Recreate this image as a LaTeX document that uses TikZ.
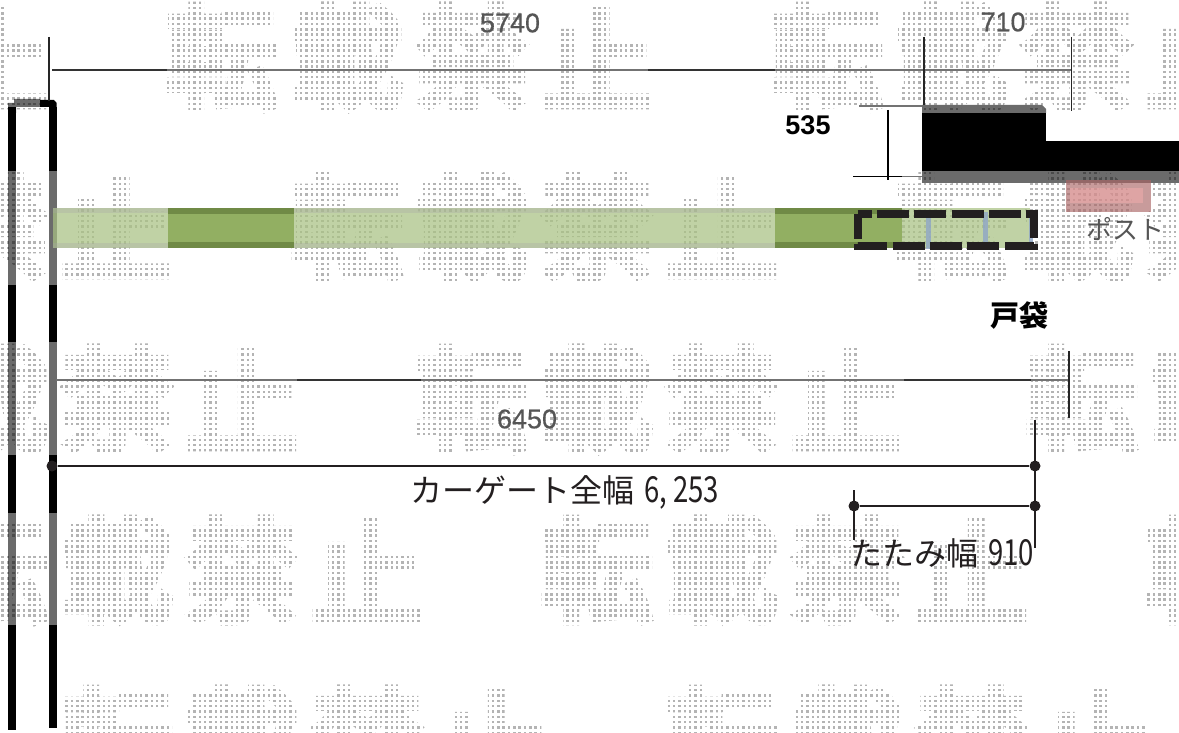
\documentclass[tikz,border=0pt]{standalone}
\usepackage{fontspec}
\setmainfont{Liberation Sans}
\newfontfamily\jp{Noto Sans CJK JP}
\newfontfamily\wmf[FakeBold=7]{Noto Sans CJK JP}
\newfontfamily\numf[FakeBold=0.5]{Liberation Sans}
\definecolor{wmgray}{HTML}{B4B4B4}
\definecolor{ink}{HTML}{231F20}
\definecolor{dimgray}{HTML}{555555}
\definecolor{lightgreen}{HTML}{A9C283}
\definecolor{darkgreen}{HTML}{92AF62}
\definecolor{darkband}{HTML}{708A46}
\definecolor{markblue}{HTML}{8FA6C6}
\tikzset{
  wm/.style={inner sep=0pt,text=wmgray,font=\wmf\fontsize{112}{112}\selectfont,anchor=center},
  dimbase/.style={draw=black!55,line width=1.5pt},
  dimdark/.style={draw=black!80,line width=1.6pt},
  tick/.style={draw=black!85,line width=1.4pt},
  dimnote/.style={draw=ink,line width=1.5pt},
  pin/.style={circle,fill=ink,inner sep=0pt,minimum size=11pt},
  lbl/.style={inner sep=0pt,text=dimgray,font=\numf\fontsize{27}{27}\selectfont},
  lblb/.style={inner sep=0pt,text=black,font=\bfseries\fontsize{27}{27}\selectfont},
  jplbl/.style={inner sep=0pt,text=ink,font=\jp\fontsize{32}{32}\selectfont},
  shade/.style={fill=black,fill opacity=.58,draw=none},
}
\newcommand{\nar}[1]{\scalebox{.86}[1.12]{#1}}
\begin{document}
\begin{tikzpicture}[x=1pt,y=-1pt]
\useasboundingbox (0,0) rectangle (1179,733);
\fill[white] (0,0) rectangle (1179,733);
\begin{scope}
\clip (0,0) rectangle (1179,733);
% watermark
\foreach \ch/\wx/\wy [count=\i] in {
 止/-60/5,転/170/5,載/295/5,禁/420/5,止/545/5,転/775/5,載/900/5,禁/1025/5,止/1150/5,
 禁/-60/175,止/65/175,転/295/175,載/420/175,禁/545/175,止/670/175,転/900/175,載/1025/175,禁/1150/175,
 載/-60/347,禁/65/347,止/190/347,転/420/347,載/545/347,禁/670/347,止/795/347,転/1030/347,載/1155/347,
 転/-60/518,載/65/518,禁/190/518,止/315/518,転/545/518,載/670/518,禁/795/518,止/920/518,転/1150/518,
 転/65/688,載/190/688,禁/315/688,止/440/688,転/670/688,載/795/688,禁/920/688,止/1045/688}
 {\node[wm] (wm\i) at (\wx+52,\wy+52) {\ch};}
% dot screen
\foreach \k in {0,...,222} {\draw[white,line width=2.9pt] (\k*5.33,0) -- (\k*5.33,733);}
\foreach \k in {0,...,138} {\draw[white,line width=2.9pt] (0,\k*5.33) -- (1179,\k*5.33);}

% black posts
\foreach \bx in {12.2,52.7} {
 \fill[black] (\bx-4,107) rectangle (\bx+4,171);
 \fill[black] (\bx-4,285) rectangle (\bx+4,342);
 \fill[black] (\bx-4,455) rectangle (\bx+4,513);
 \fill[shade] (\bx-4,171) rectangle (\bx+4,285);
 \fill[shade] (\bx-4,342) rectangle (\bx+4,455);
 \fill[shade] (\bx-4,513) rectangle (\bx+4,625);
}
\fill[black] (8.2,625) rectangle (16.2,730);
\fill[black] (48.7,625) rectangle (56.7,728);
\fill[shade] (8.2,103) -- (14,103) -- (14,99) -- (40,99) -- (40,107) -- (16.2,107) -- (16.2,113) -- (8.2,113) -- cycle;
\fill[black] (40,100) -- (54,100) -- (56.7,103) -- (56.7,107) -- (40,107) -- cycle;

% wall block
\fill[black] (922,113) rectangle (1046,171);
\fill[black] (1046,141) rectangle (1179,171);
\fill[shade] (922,105) -- (1042,105) -- (1046,109) -- (1046,113) -- (922,113) -- cycle;
\fill[shade] (922,171) rectangle (1179,183);

% post box
\fill[fill=red!45!black!60!white,fill opacity=.65] (1066,180) rectangle (1151,212);
\fill[fill=red!30!white,fill opacity=.4] (1070,188) rectangle (1143,203);

% green gate
\fill[lightgreen,fill opacity=.72] (53,208) rectangle (168,248);
\fill[lightgreen,fill opacity=.72] (294,208) rectangle (775,248);
\fill[lightgreen,fill opacity=.72] (902,208) rectangle (1030,248);
\fill[black!35,fill opacity=.3] (53,208) rectangle (168,213);
\fill[black!35,fill opacity=.3] (53,243) rectangle (168,248);
\fill[black!35,fill opacity=.3] (294,208) rectangle (775,213);
\fill[black!35,fill opacity=.3] (294,243) rectangle (775,248);
\foreach \gl/\gr in {168/294,775/902} {
 \fill[darkgreen] (\gl,208) rectangle (\gr,248);
 \fill[darkband] (\gl,208) rectangle (\gr,214);
 \fill[darkband] (\gl,242) rectangle (\gr,248);
}
% blue marks behind the dashed box
\foreach \bm in {928.5,985.5,1031} {\fill[markblue,fill opacity=.8] (\bm-2.2,212) rectangle (\bm+2.2,249);}
% dashed frame
\coordinate (fa) at (857.5,214);
\coordinate (fb) at (1034,214);
\coordinate (fc) at (1034,246);
\coordinate (fd) at (857.5,246);
\draw[ink,line width=8pt,dash pattern=on 32pt off 5.3pt,dash phase=17.8pt] (fa) -- (fb) -- (fc) -- (fd) -- cycle;
\end{scope}

% dimension lines, top
\coordinate (ta) at (52,70); \coordinate (tb) at (1072,70);
\draw[dimbase] (ta) -- (tb);
\coordinate (ta1) at (167,70); \coordinate (ta2) at (648,70); \coordinate (ta3) at (775,70);
\draw[dimdark] (ta) -- (ta1);
\draw[dimdark] (ta2) -- (ta3);
\coordinate (t1a) at (49,37); \coordinate (t1b) at (49,101);
\coordinate (t2a) at (924,37); \coordinate (t2b) at (924,105);
\coordinate (t3a) at (1071.5,37); \coordinate (t3b) at (1071.5,111);
\draw[tick] (t1a) -- (t1b);
\draw[tick] (t2a) -- (t2b);
\draw[tick] (t3a) -- (t3b);
% 535
\coordinate (ha) at (859,106); \coordinate (hb) at (922,106);
\coordinate (ia) at (853,176.5); \coordinate (ib) at (902,176.5); \coordinate (ic) at (922,176.5);
\coordinate (va) at (888,110); \coordinate (vb) at (888,180);
\draw[dimbase] (ha) -- (hb);
\draw[dimbase] (ib) -- (ic);
\draw[draw=black,line width=1.5pt] (ia) -- (ib);
\draw[draw=black,line width=1.4pt] (va) -- (vb);
% 6450
\coordinate (ma) at (56,380); \coordinate (mb) at (1069,380);
\draw[dimbase] (ma) -- (mb);
\coordinate (m1) at (297,380); \coordinate (m2) at (421,380); \coordinate (m3) at (904,380); \coordinate (m4) at (1031,380);
\draw[dimdark] (m1) -- (m2);
\draw[dimdark] (m3) -- (m4);
\coordinate (mta) at (1069,351); \coordinate (mtb) at (1069,418);
\draw[tick] (mta) -- (mtb);

% gate width notes
\node[pin] (p1) at (52,466) {};
\node[pin] (p2) at (1035,466) {};
\node[pin] (p3) at (1035,506) {};
\node[pin] (p4) at (854,506) {};
\coordinate (na) at (1035,420); \coordinate (nb) at (1035,548);
\coordinate (oa) at (854,490); \coordinate (ob) at (854,540);
\draw[dimnote] (p1) -- (p2);
\draw[dimnote] (p4) -- (p3);
\draw[draw=ink,line width=1.3pt] (na) -- (nb);
\draw[draw=ink,line width=1.3pt] (oa) -- (ob);

% labels
\node[lbl] (l5740) at (510,23) {5740};
\node[lbl] (l710) at (1003,22) {710};
\node[lblb] (l535) at (808,125) {535};
\node[lbl,font=\jp\fontsize{26}{26}\selectfont] (lpost) at (1125,229) {ポスト};
\node[lblb,font=\jp\bfseries\fontsize{29}{29}\selectfont] (ltobukuro) at (1019,316) {戸袋};
\node[lbl] (l6450) at (527,419) {6450};
\node[jplbl,anchor=west] (lgate) at (410,492) {カーゲート全幅\hspace{10pt}\nar{6, 253}};
\node[jplbl,anchor=west] (lfold) at (850,553) {たたみ幅\hspace{10pt}\nar{910}};
\end{tikzpicture}
\end{document}
